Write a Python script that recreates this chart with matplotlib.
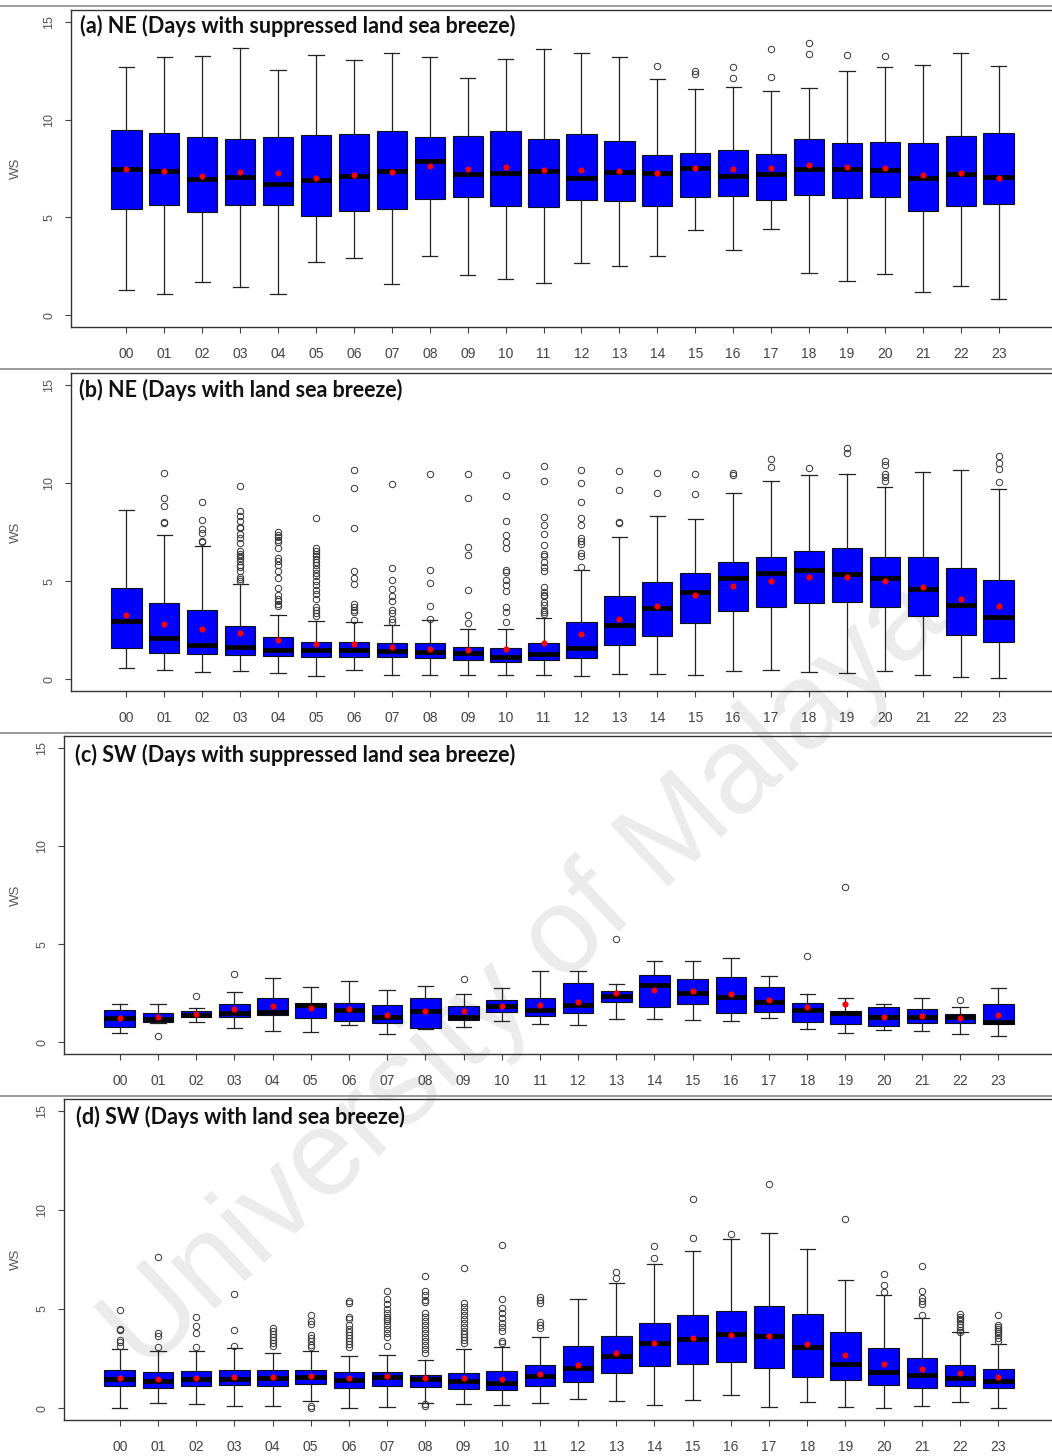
import matplotlib
matplotlib.use("Agg")
import matplotlib.pyplot as plt

hours = ["%02d" % h for h in range(24)]

# ---------------- Panel (a) NE suppressed ----------------
a_lo   = [1.31,1.08,1.68,1.44,1.08,2.73,2.95,1.59,3.02,2.07,1.86,1.63,2.68,2.51,3.03,4.37,3.31,4.41,2.17,1.76,2.12,1.20,1.51,0.83]
a_q1   = [5.44,5.61,5.27,5.61,5.61,5.05,5.32,5.41,5.93,6.05,5.58,5.54,5.88,5.83,5.58,6.05,6.08,5.88,6.15,5.97,6.02,5.31,5.59,5.68]
a_med  = [7.49,7.36,6.97,7.07,6.73,6.90,7.14,7.36,7.90,7.20,7.29,7.36,7.03,7.32,7.25,7.54,7.12,7.24,7.46,7.46,7.41,7.02,7.20,7.07]
a_q3   = [9.49,9.32,9.10,9.02,9.10,9.19,9.27,9.44,9.10,9.14,9.41,9.02,9.24,8.88,8.17,8.27,8.44,8.22,9.00,8.78,8.86,8.78,9.17,9.31]
a_hi   = [12.71,13.20,13.24,13.66,12.51,13.32,13.02,13.39,13.20,12.10,13.08,13.59,13.39,13.20,12.08,11.56,11.69,11.47,11.59,12.46,12.69,12.78,13.39,12.73]
a_mean = [7.49,7.36,7.12,7.34,7.25,7.03,7.15,7.34,7.63,7.46,7.56,7.41,7.41,7.39,7.27,7.53,7.46,7.51,7.66,7.56,7.51,7.19,7.27,7.02]
a_out  = [[],[],[],[],[],[],[],[],[],[],[],[],[],[],[12.73],[12.46,12.32],[12.69,12.14],[13.61,12.17],[13.9,13.34],[13.29],[13.25],[],[],[]]

# ---------------- Panel (b) NE land sea breeze ----------------
b_lo   = [0.58,0.46,0.38,0.43,0.32,0.14,0.46,0.19,0.24,0.24,0.19,0.22,0.14,0.27,0.27,0.22,0.41,0.46,0.38,0.32,0.43,0.24,0.10,0.05]
b_q1   = [1.59,1.33,1.26,1.23,1.19,1.14,1.14,1.14,1.06,0.97,0.90,0.97,1.09,1.74,2.22,2.85,3.50,3.67,3.89,3.92,3.67,3.21,2.25,1.89]
b_med  = [2.99,2.12,1.76,1.62,1.50,1.50,1.48,1.43,1.37,1.33,1.14,1.26,1.59,2.76,3.62,4.45,5.15,5.43,5.55,5.38,5.17,4.61,3.79,3.19]
b_q3   = [4.64,3.86,3.55,2.73,2.17,1.89,1.89,1.86,1.86,1.66,1.59,1.84,2.94,4.22,4.95,5.43,5.97,6.25,6.52,6.67,6.21,6.21,5.65,5.07]
b_hi   = [8.60,7.34,6.77,4.85,3.26,2.97,2.90,2.78,3.00,2.58,2.54,3.12,5.56,7.24,8.33,8.16,9.49,10.12,10.41,10.48,9.81,10.56,10.65,9.69]
b_mean = [3.29,2.82,2.56,2.37,2.01,1.81,1.79,1.62,1.55,1.48,1.55,1.84,2.29,3.09,3.72,4.28,4.74,5.00,5.22,5.22,4.98,4.69,4.10,3.72]
b_out  = [
    [],
    [10.53,9.25,8.82,8.0,7.95],
    [9.01,8.09,7.65,7.46,7.06,7.0],
    [9.86,8.57,8.33,8.05,7.78,7.68,7.41,7.17,6.95,6.55,6.4,6.28,6.18,6.01,5.84,5.7,5.5,5.22,5.12,4.98],
    [7.51,7.37,7.24,7.1,7.0,6.71,6.18,6.01,5.8,5.53,5.17,4.66,4.27,4.1,3.96,3.82,3.75],
    [8.21,6.69,6.55,6.4,6.28,6.14,5.97,5.84,5.6,5.43,5.26,4.98,4.78,4.56,4.32,4.1,3.69,3.55,3.36,3.21],
    [10.65,9.73,7.68,5.53,5.17,4.85,3.81,3.69,3.55,3.41,3.0],
    [9.95,5.65,5.03,4.61,4.23,3.96,3.53,3.36,3.07,2.94],
    [10.48,5.56,4.88,3.72,3.07],
    [10.44,9.25,6.74,6.35,4.52,3.26,2.85],
    [10.38,9.32,8.05,7.34,7.0,6.69,5.55,5.46,5.07,4.78,4.47,3.67,3.45,2.94],
    [10.84,10.09,8.28,7.88,7.42,6.83,6.4,6.28,5.97,5.72,5.5,4.69,4.44,4.3,4.22,3.92,3.79,3.55,3.41,3.33],
    [10.65,9.98,9.01,8.23,7.88,7.17,7.05,6.91,6.45,6.26,5.73],
    [10.61,9.64,8.02,7.94],
    [10.53,9.47],
    [10.48,9.42],
    [10.53,10.41],
    [11.23,10.82],
    [10.78],
    [11.77,11.5],
    [11.13,10.92,10.44,10.32,10.1],
    [],
    [],
    [11.35,10.99,10.72,10.03],
]

# ---------------- Panel (c) SW suppressed ----------------
c_lo   = [0.49,0.98,1.02,0.71,0.56,0.51,0.87,0.41,0.68,0.77,1.07,0.94,0.88,1.16,1.16,1.12,1.07,1.21,0.68,0.49,0.63,0.58,0.41,0.32]
c_q1   = [0.80,1.05,1.26,1.28,1.39,1.22,1.07,1.00,0.75,1.11,1.55,1.34,1.50,2.06,1.77,1.94,1.50,1.55,1.05,0.94,0.85,0.97,0.97,0.94]
c_med  = [1.21,1.17,1.38,1.48,1.55,1.89,1.65,1.28,1.60,1.26,1.82,1.65,1.89,2.36,2.89,2.50,2.31,2.04,1.65,1.48,1.31,1.31,1.31,1.05]
c_q3   = [1.65,1.50,1.60,1.96,2.26,1.99,2.02,1.89,2.23,1.85,2.13,2.23,3.01,2.62,3.45,3.23,3.32,2.82,1.99,1.57,1.79,1.68,1.43,1.94]
c_hi   = [1.94,1.94,1.73,2.57,3.25,2.81,3.11,2.67,2.86,2.45,2.77,3.61,3.61,2.98,4.15,4.15,4.30,3.35,2.45,2.23,1.96,2.23,1.79,2.76]
c_mean = [1.21,1.28,1.46,1.70,1.85,1.72,1.68,1.39,1.60,1.60,1.82,1.89,2.07,2.53,2.67,2.59,2.48,2.16,1.77,1.96,1.28,1.36,1.21,1.39]
c_out  = [[],[0.32],[2.36],[3.47],[],[],[],[],[],[3.2],[],[],[],[5.26],[],[],[],[],[4.39],[7.93],[],[],[2.13],[]]

# ---------------- Panel (d) SW land sea breeze ----------------
d_lo   = [0.00,0.26,0.20,0.09,0.12,0.36,0.00,0.05,0.26,0.20,0.15,0.25,0.44,0.34,0.14,0.42,0.64,0.05,0.29,0.05,0.00,0.10,0.31,0.02]
d_q1   = [1.10,1.04,1.10,1.19,1.13,1.24,1.04,1.10,1.05,0.97,0.93,1.10,1.32,1.78,2.14,2.25,2.34,2.03,1.58,1.41,1.15,1.03,1.10,1.03]
d_med  = [1.49,1.37,1.47,1.47,1.50,1.55,1.41,1.55,1.46,1.37,1.25,1.63,2.03,2.61,3.27,3.47,3.76,3.64,3.10,2.25,1.80,1.66,1.53,1.37]
d_q3   = [1.92,1.80,1.88,1.92,1.92,1.92,1.84,1.83,1.66,1.78,1.88,2.17,3.15,3.64,4.31,4.71,4.88,5.17,4.76,3.83,3.02,2.51,2.17,1.95]
d_hi   = [2.97,2.88,2.90,3.02,2.76,2.90,2.63,2.68,2.42,2.97,3.10,3.59,5.51,6.32,7.29,7.93,8.54,8.86,8.05,6.46,5.73,4.54,3.83,3.24]
d_mean = [1.52,1.47,1.54,1.59,1.59,1.64,1.54,1.64,1.54,1.54,1.47,1.73,2.20,2.76,3.27,3.56,3.71,3.66,3.22,2.68,2.22,1.95,1.76,1.58]
d_out  = [
    [4.97,4.0,3.95,3.44,3.34,3.15],
    [7.63,3.78,3.66,3.07],
    [4.6,4.12,3.78,3.1],
    [5.75,3.95,3.15],
    [4.03,3.9,3.75,3.6,3.45,3.3,3.15],
    [4.7,4.4,4.25,3.7,3.55,3.4,3.2,3.1,0.12,0.0],
    [5.39,5.3,4.6,4.5,4.2,4.0,3.85,3.7,3.55,3.4,3.25,3.1],
    [5.92,5.5,5.25,5.0,4.8,4.6,4.5,4.4,4.2,4.0,3.8,3.6,3.15],
    [6.66,5.9,5.73,5.48,5.36,4.8,4.6,4.4,4.2,4.0,3.8,3.6,3.4,3.2,3.0,2.8,0.2,0.1],
    [7.05,5.3,5.1,4.9,4.7,4.5,4.3,4.1,3.9,3.75,3.6,3.45,3.3],
    [8.22,5.53,5.05,4.8,4.55,4.3,4.1,3.9,3.4,3.3],
    [5.61,5.47,5.3,4.37,4.2,4.03],
    [],
    [6.88,6.58],
    [8.19,7.56],
    [10.54,8.58],
    [8.78],
    [11.31],
    [],
    [9.53],
    [6.78,6.2,5.85],
    [7.17,5.9,5.56,5.4,5.25,4.68],
    [4.76,4.6,4.5,4.4,4.25,4.1,3.95,3.85],
    [4.68,4.2,4.1,4.0,3.9,3.8,3.7,3.55,3.4],
]

titles = ["(a) NE (Days with suppressed land sea breeze)",
          "(b) NE (Days with land sea breeze)",
          "(c) SW (Days with suppressed land sea breeze)",
          "(d) SW (Days with land sea breeze)"]

panels = [
    (a_lo, a_q1, a_med, a_q3, a_hi, a_mean, a_out),
    (b_lo, b_q1, b_med, b_q3, b_hi, b_mean, b_out),
    (c_lo, c_q1, c_med, c_q3, c_hi, c_mean, c_out),
    (d_lo, d_q1, d_med, d_q3, d_hi, d_mean, d_out),
]

# layout in pixels: left, top, right, bottom
W, H = 1052, 1456
rects = [(71, 10, 1054, 327), (71, 373, 1054, 691), (64, 736, 1054, 1054), (64, 1099, 1054, 1420)]
title_pos = [(80, 26), (79, 390), (75, 755), (76, 1117)]
sep_lines = [6, 369, 733, 1096]

fig = plt.figure(figsize=(W / 100, H / 100), dpi=100)
fig.patch.set_facecolor("white")

# faint watermark behind everything
fig.text(0.50, 0.330, "University of Malaya", fontsize=88, color="#ebebeb",
         rotation=43, ha="center", va="center", family="Liberation Sans",
         zorder=-5)

for y in sep_lines:
    fig.add_artist(plt.Line2D([0, 1], [1 - y / H, 1 - y / H], color="#9a9a9a", lw=1.4, zorder=-4))

for i, (lo, q1, med, q3, hi, mean, out) in enumerate(panels):
    l, t, r, b = rects[i]
    ax = fig.add_axes([l / W, 1 - b / H, (r - l) / W, (b - t) / H])
    ax.set_facecolor("none")
    stats = []
    for k in range(24):
        stats.append(dict(whislo=lo[k], q1=q1[k], med=med[k], q3=q3[k], whishi=hi[k],
                          mean=mean[k], fliers=out[k], label=hours[k]))
    ax.bxp(stats, positions=list(range(1, 25)), widths=0.8, capwidths=0.4,
           patch_artist=True, showmeans=True, showfliers=True,
           boxprops=dict(facecolor="#0000ff", edgecolor="#111111", linewidth=0.8),
           medianprops=dict(color="black", linewidth=3.4, solid_capstyle="butt"),
           whiskerprops=dict(color="#222222", linewidth=0.9),
           capprops=dict(color="#222222", linewidth=0.9),
           flierprops=dict(marker="o", markerfacecolor="none", markeredgecolor="#333333",
                           markersize=4.6, markeredgewidth=0.7, linestyle="none"),
           meanprops=dict(marker="o", markerfacecolor="red", markeredgecolor="red",
                          markersize=3.4))
    ax.set_xlim(-0.46, 25.46)
    ax.set_ylim(-0.6, 15.6)
    ax.set_yticks([0, 5, 10, 15])
    ax.set_yticklabels(["0", "5", "10", "15"], rotation=90, va="center",
                       fontsize=9, color="#555555", family="Liberation Sans")
    ax.set_xticks(list(range(1, 25)))
    ax.set_xticklabels(hours, fontsize=10, color="#444444", family="Liberation Sans")
    ax.tick_params(axis="y", length=4.5, width=0.8, color="#444444", pad=7)
    ax.tick_params(axis="x", length=4.5, width=0.8, color="#444444", pad=10)
    for s in ax.spines.values():
        s.set_color("#333333")
        s.set_linewidth(1.0)
    tx, ty = title_pos[i]
    fig.text(tx / W, 1 - ty / H, titles[i], fontsize=15.5, fontweight="bold",
             family="Lato", color="#111111", ha="left", va="center")
    fig.text(16 / W, 1 - ((t + b) / 2) / H, "WS", rotation=90, fontsize=9.5,
             color="#555555", family="Liberation Sans", ha="center", va="center")

fig.savefig("out.png", dpi=100, facecolor="white")
